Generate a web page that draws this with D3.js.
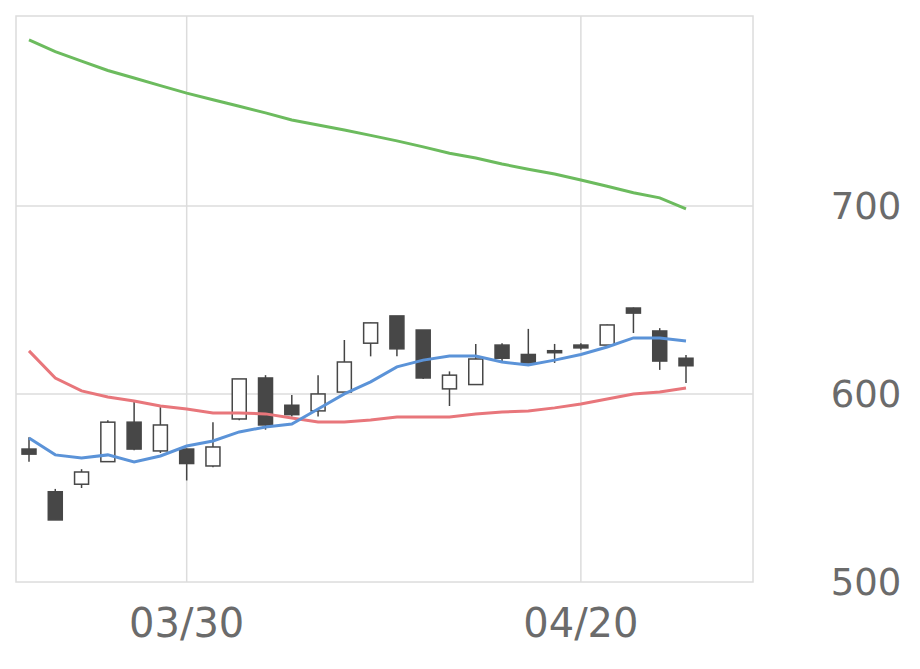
<!DOCTYPE html>
<html>
<head>
<meta charset="utf-8">
<script src="https://cdn.jsdelivr.net/npm/d3@7"></script>
<style>
  body { margin: 0; background: #fff; }
  text { font-family: "DejaVu Sans", sans-serif; fill: #6b6b6b; }
</style>
</head>
<body>
<script>
// candlestick chart with 3 moving averages
var dates = ["03/20","03/23","03/24","03/25","03/26","03/27","03/30","03/31","04/01","04/02","04/03",
  "04/06","04/07","04/08","04/09","04/10","04/13","04/14","04/15","04/16","04/17","04/20","04/21","04/22","04/23","04/24"];
var open  = [570.7,548,552,564,585,569.7,570.7,561.7,586.7,608.5,594,591,601,627,641.5,634,602.7,605,626,621,623,626,626,645.7,633.5,619];
var close = [568,533,558.5,585,570.7,583.5,563,571.8,608,583.5,589,600,617,637.8,624,608.5,610,618.6,619,616.5,622.5,624.5,636.7,643,617.5,615];
var high  = [577,549.5,560,586,595.7,593,571,585,608,610,599.5,610,628.7,638,641.5,634,612,626.6,627,634.6,626.6,627,637,646,635,620.7];
var low   = [564,533,550,564,570,568.6,554,561,586,581,588,588,600,620,620,608,593.6,605,617,616.5,616.5,623.5,626,632.4,612.8,605.8];
var maShort = [576.6,567.6,566,567.6,563.8,567,572.3,575,579.8,582.4,584,592,600,606.4,614.4,618,620.2,620.2,617,615.4,618,621,625,629.8,629.8,628.2];
var maMid   = [622.9,608.5,601.6,598.4,596.3,593.6,592,589.9,589.9,589.4,587.2,585.1,585.1,586.2,587.8,587.8,587.8,589.4,590.4,590.9,592.6,594.7,597.3,600,601,603.2];
var maLong  = [788.3,782,777,772,768,764,760,756.5,753,749.5,745.7,743,740.4,737.5,734.6,731.4,728,725.5,722.3,719.5,717,713.8,710.5,707,704.3,698.4];
var yTicks = [500, 600, 700];
var xTicks = ["03/30", "04/20"];

var w = 920, h = 669;
var plotLeft = 16, plotRight = 753, plotTop = 16, plotBottom = 582;

var svg = d3.select("body").append("svg").attr("width", w).attr("height", h);

var x = d3.scaleLinear().domain([0, dates.length - 1]).range([29, 686]);
var y = d3.scaleLinear().domain([500, 801]).range([plotBottom, plotTop]);

// grid
svg.append("g").selectAll("line").data(yTicks.filter(function(t) { return t > 500; }))
  .enter().append("line")
  .attr("x1", plotLeft).attr("x2", plotRight)
  .attr("y1", function(d) { return y(d); }).attr("y2", function(d) { return y(d); })
  .attr("stroke", "#dcdcdc").attr("stroke-width", 1.5);
svg.append("g").selectAll("line").data(xTicks)
  .enter().append("line")
  .attr("x1", function(d) { return x(dates.indexOf(d)); }).attr("x2", function(d) { return x(dates.indexOf(d)); })
  .attr("y1", plotTop).attr("y2", plotBottom)
  .attr("stroke", "#dcdcdc").attr("stroke-width", 1.5);
svg.append("rect").attr("x", plotLeft).attr("y", plotTop)
  .attr("width", plotRight - plotLeft).attr("height", plotBottom - plotTop)
  .attr("fill", "none").attr("stroke", "#dcdcdc").attr("stroke-width", 1.5);

// labels
svg.append("g").selectAll("text").data(yTicks).enter().append("text")
  .attr("x", 866).attr("y", function(d) { return y(d) + 13; })
  .attr("text-anchor", "middle").attr("font-size", 37)
  .text(function(d) { return d; });
svg.append("g").selectAll("text").data(xTicks).enter().append("text")
  .attr("x", function(d) { return x(dates.indexOf(d)); }).attr("y", 637)
  .attr("text-anchor", "middle").attr("font-size", 40)
  .text(function(d) { return d; });

// moving averages
function drawLine(vals, color) {
  svg.append("path").datum(vals)
    .attr("d", d3.line().x(function(d, i) { return x(i); }).y(function(d) { return y(d); }))
    .attr("fill", "none").attr("stroke", color).attr("stroke-width", 3);
}

// candles
var candles = svg.append("g").selectAll("g").data(dates).enter().append("g");
candles.append("line")
  .attr("x1", function(d, i) { return x(i); }).attr("x2", function(d, i) { return x(i); })
  .attr("y1", function(d, i) { return y(high[i]); }).attr("y2", function(d, i) { return y(low[i]); })
  .attr("stroke", "#444").attr("stroke-width", 1.5);
candles.append("rect")
  .attr("x", function(d, i) { return x(i) - 7; }).attr("width", 14)
  .attr("y", function(d, i) { return y(Math.max(open[i], close[i])); })
  .attr("height", function(d, i) { return Math.max(2, Math.abs(y(open[i]) - y(close[i]))); })
  .attr("fill", function(d, i) { return close[i] >= open[i] ? "#fff" : "#474747"; })
  .attr("stroke", "#474747").attr("stroke-width", 1.5);

drawLine(maLong, "#6cbb5e");
drawLine(maMid, "#e8767b");
drawLine(maShort, "#5b93d8");
</script>
</body>
</html>
